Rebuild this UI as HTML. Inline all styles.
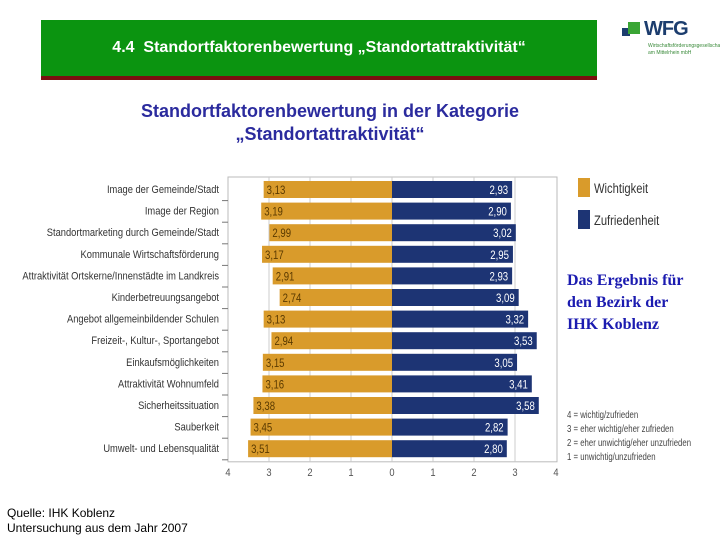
<!DOCTYPE html>
<html><head><meta charset="utf-8"><style>
body{margin:0;background:#fff;width:720px;height:540px;overflow:hidden;position:relative;font-family:"Liberation Sans",sans-serif}
.hdr{position:absolute;left:41px;top:20px;width:556px;height:56px;background:#0b9410;border-bottom:4px solid #7a1010;color:#fff;font-weight:bold;font-size:16px;text-align:center;line-height:56px}
.sub{position:absolute;left:60px;top:100px;width:540px;text-align:center;color:#2b2b9e;font-weight:bold;font-size:18px;line-height:23px}
.res{position:absolute;left:567px;top:270px;color:#1b1bb0;font-family:"Liberation Serif",serif;font-weight:bold;font-size:16px;line-height:22px}
.src{position:absolute;left:7px;top:506px;font-size:12px;line-height:15px;color:#000}
</style></head><body>
<div class="hdr">4.4&nbsp; Standortfaktorenbewertung „Standortattraktivität“</div>
<div style="position:absolute;left:620px;top:20px;width:100px;height:40px">
 <div style="position:absolute;left:2px;top:8px;width:8px;height:8px;background:#1c3d6e"></div>
 <div style="position:absolute;left:8px;top:2px;width:12px;height:12px;background:#3aa535"></div>
 <div style="position:absolute;left:24px;top:-2px;font-size:20px;font-weight:bold;color:#1c3d6e;letter-spacing:-1px">WFG</div>
 <div style="position:absolute;left:28px;top:23px;font-size:5px;color:#3a8a3a;line-height:7px">Wirtschaftsförderungsgesellschaft<br>am Mittelrhein mbH</div>
</div>
<div class="sub">Standortfaktorenbewertung in der Kategorie<br>„Standortattraktivität“</div>
<svg width="720" height="540" style="position:absolute;left:0;top:0" id="chart"></svg>
<div class="res">Das Ergebnis für<br>den Bezirk der<br>IHK Koblenz</div>
<div class="src">Quelle: IHK Koblenz<br>Untersuchung aus dem Jahr 2007</div>
<script>
const categories=["Image der Gemeinde/Stadt","Image der Region","Standortmarketing durch Gemeinde/Stadt","Kommunale Wirtschaftsförderung","Attraktivität Ortskerne/Innenstädte im Landkreis","Kinderbetreuungsangebot","Angebot allgemeinbildender Schulen","Freizeit-, Kultur-, Sportangebot","Einkaufsmöglichkeiten","Attraktivität Wohnumfeld","Sicherheitssituation","Sauberkeit","Umwelt- und Lebensqualität"];
const wichtigkeit=[3.13,3.19,2.99,3.17,2.91,2.74,3.13,2.94,3.15,3.16,3.38,3.45,3.51];
const zufriedenheit=[2.93,2.90,3.02,2.95,2.93,3.09,3.32,3.53,3.05,3.41,3.58,2.82,2.80];
const leftTicks=[4,3,2,1,0];
const rightTicks=[1,2,3,4];
const legendLabels=["Wichtigkeit","Zufriedenheit"];
const scaleNotes=["4 = wichtig/zufrieden","3 = eher wichtig/eher zufrieden","2 = eher unwichtig/eher unzufrieden","1 = unwichtig/unzufrieden"];

const svg=document.getElementById('chart');
const NS='http://www.w3.org/2000/svg';
const zeroX=392,unit=41,top0=179,rowH=21.6,barH=17;
const xL=v=>zeroX-v*unit, xR=v=>zeroX+v*unit;
const yRow=i=>top0+i*rowH;
function mk(t,a,txt){const e=document.createElementNS(NS,t);for(const k in a)e.setAttribute(k,a[k]);if(txt!==undefined)e.textContent=txt;svg.appendChild(e);return e;}
const fmt=v=>v.toFixed(2).replace('.',',');
const F='"Liberation Sans",sans-serif';
function nt(x,y,anchor,size,fill,txt,sx){return mk('text',{x:0,y:0,'text-anchor':anchor,'font-size':size,'font-family':F,fill:fill,transform:`translate(${x},${y}) scale(${sx},1)`},txt);}

let e=mk('rect',{x:xL(4),y:top0-2,width:8*unit+1,height:rowH*13+4,fill:'#fff',stroke:'#bbb'});


for(let v=-3;v<=3;v++){
 e=mk('line',{x1:zeroX+v*unit,x2:zeroX+v*unit,y1:top0-2,y2:top0+rowH*13+2,stroke:'#ccc'});
 
 
}
categories.forEach((c,i)=>{
 const y=yRow(i);
 e=nt(219,y+14,'end','11','#333',c,0.85);
 
 
 e=mk('line',{x1:222,x2:228,y1:y+rowH,y2:y+rowH,stroke:'#777'});
 
 
 const w=wichtigkeit[i],z=zufriedenheit[i];
 e=mk('rect',{x:xL(w),y:y+2,width:w*unit,height:barH,fill:'#d99b2b'});
 
 
 e=mk('rect',{x:zeroX,y:y+2,width:z*unit,height:barH,fill:'#1d3474'});
 
 
 e=nt(xL(w)+3,y+15,'start','12','#5a3a00',fmt(w),0.8);
 
 
 e=nt(xR(z)-4,y+15,'end','12','#fff',fmt(z),0.8);
 
 
});
leftTicks.forEach(t=>{
 e=nt(xL(t),476,'middle','11','#555',t,0.85);
 
 
});
rightTicks.forEach(t=>{
 e=nt(xR(t),476,'middle','11','#555',t,0.85);
 
 
});
const legCols=['#d99b2b','#1d3474'];
legendLabels.forEach((l,i)=>{
 e=mk('rect',{x:578,y:178+i*32,width:12,height:19,fill:legCols[i]});
 
 
 e=nt(594,193+i*32,'start','14','#333',l,0.8);
 
 
});
scaleNotes.forEach((s,i)=>{
 e=nt(567,418+i*14,'start','10','#444',s,0.78);
 
 
});
</script>
</body></html>
